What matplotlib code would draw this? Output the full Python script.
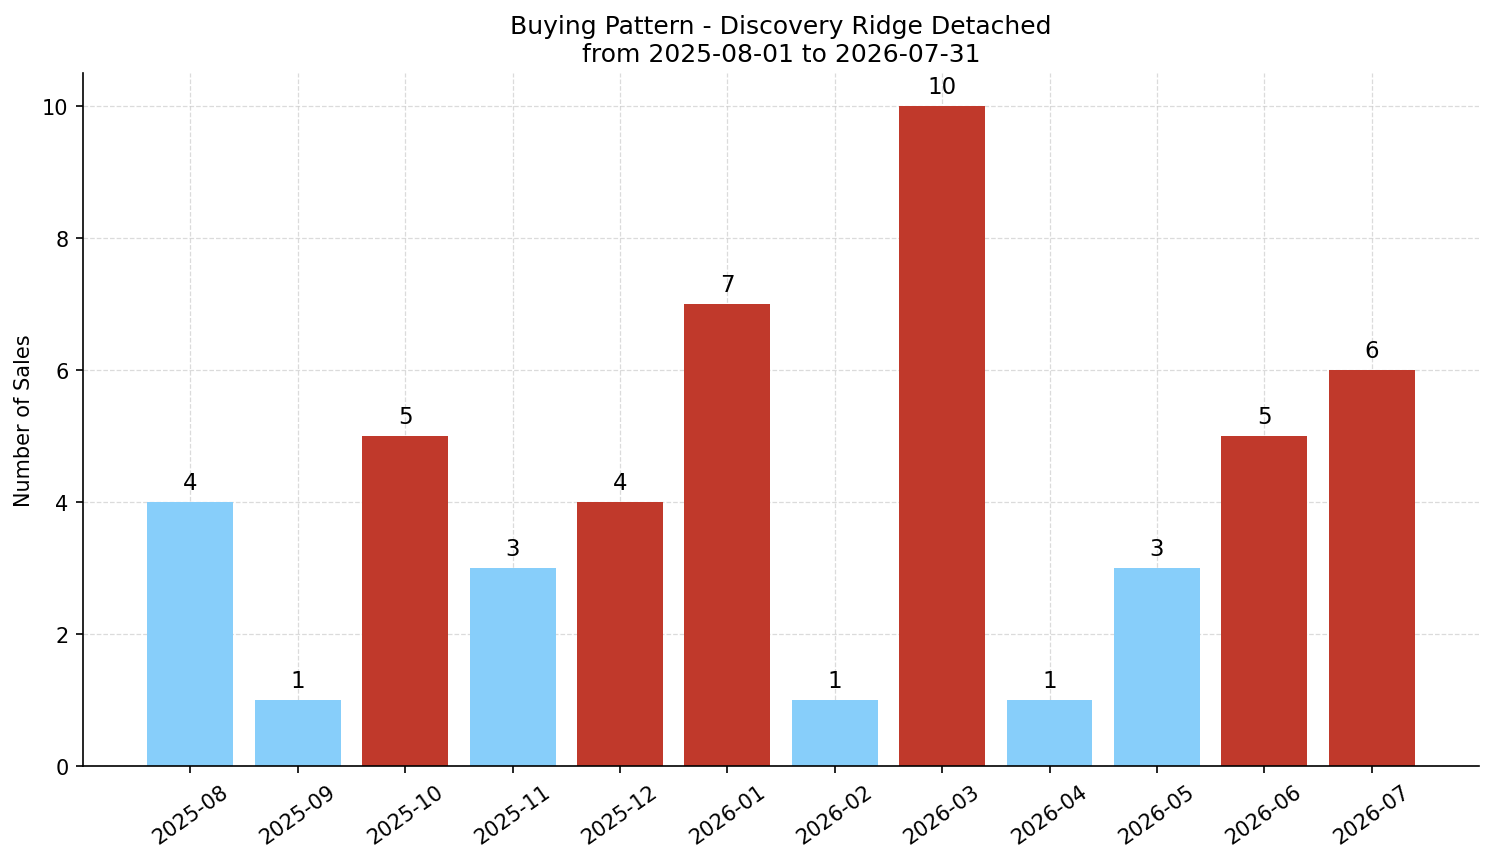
import matplotlib
matplotlib.use("Agg")
import matplotlib.pyplot as plt

months = ["2025-08", "2025-09", "2025-10", "2025-11", "2025-12", "2026-01",
          "2026-02", "2026-03", "2026-04", "2026-05", "2026-06", "2026-07"]
sales = [4, 1, 5, 3, 4, 7, 1, 10, 1, 3, 5, 6]
highlight = [False, False, True, False, True, True, False, True, False, False, True, True]

light_color = "#87CEFA"
hot_color = "#C0392B"

fig = plt.figure(figsize=(9.96, 5.753), dpi=150)
ax = fig.add_axes([0.0556, 0.1112, 0.9344, 0.803])

x = list(range(len(months)))
colors = [hot_color if h else light_color for h in highlight]
bars = ax.bar(x, sales, width=0.8, color=colors, zorder=2)

for xi, v in zip(x, sales):
    ax.text(xi, v + 0.12, str(v), ha="center", va="bottom", fontsize=11)

ax.set_xticks(x)
ax.set_xticklabels(months, rotation=35, ha="center", fontsize=10)
ax.tick_params(axis="y", labelsize=10)
ax.set_xlim(-1, 12)
ax.set_ylim(0, 10.5)
ax.set_yticks([0, 2, 4, 6, 8, 10])
ax.grid(True, linestyle="--", color="#cccccc", alpha=0.7, linewidth=0.6, zorder=0)
ax.spines["top"].set_visible(False)
ax.spines["right"].set_visible(False)
ax.set_ylabel("Number of Sales", fontsize=10)
ax.set_title("Buying Pattern - Discovery Ridge Detached\nfrom 2025-08-01 to 2026-07-31", fontsize=12)

fig.savefig("out.png", dpi=150)
